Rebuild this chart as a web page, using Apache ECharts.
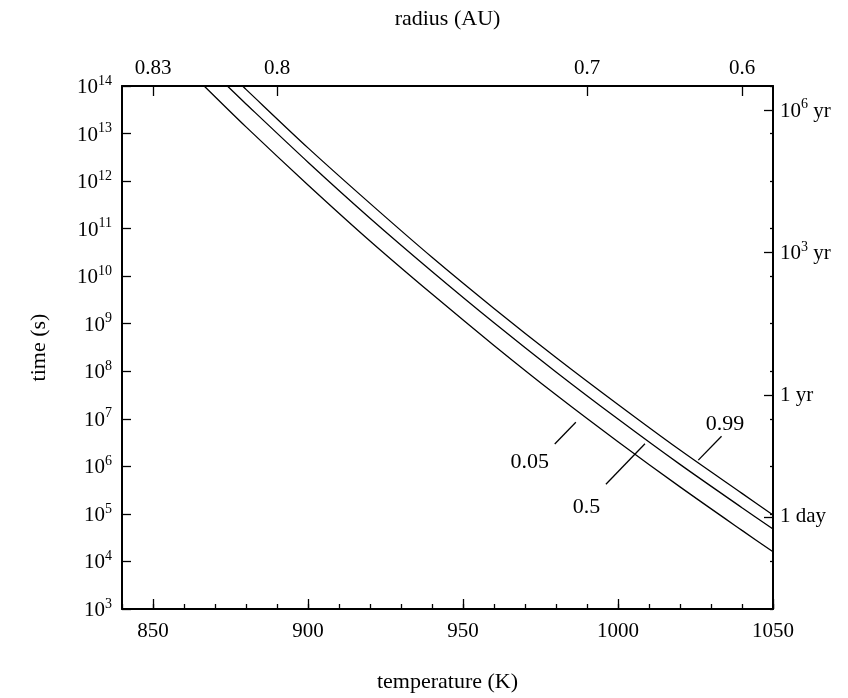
<!DOCTYPE html>
<html><head><meta charset="utf-8">
<script src="https://cdn.jsdelivr.net/npm/echarts@6/dist/echarts.min.js"></script>
<style>html,body{margin:0;padding:0;background:#fff}#c{width:848px;height:698px}</style>
</head><body><div id="c"></div>
<script>
// ---- data ----
const temp005 = [866.5, 880, 900, 920, 940, 960, 980, 1000, 1020, 1040, 1050];
const time005 = [1e14, 1.38e13, 8.3e11, 5.5e10, 4.2e9, 3.5e8, 3.2e7, 3.3e6, 3.7e5, 4.5e4, 1.6e4];
const temp05 = [874, 880, 900, 920, 940, 960, 980, 1000, 1020, 1040, 1050];
const time05 = [1e14, 4.2e13, 2.5e12, 1.66e11, 1.26e10, 1.05e9, 9.7e7, 9.9e6, 1.1e6, 1.35e5, 4.8e4];
const temp099 = [878.9, 880, 900, 920, 940, 960, 980, 1000, 1020, 1040, 1050];
const time099 = [1e14, 8.5e13, 5.0e12, 3.4e11, 2.5e10, 2.1e9, 1.95e8, 2.0e7, 2.2e6, 2.7e5, 9.5e4];

const curveNames = ['0.05', '0.5', '0.99'];
const labelTemp = [971.5, 989.8, 1034.5];
const labelTime = [1.25e6, 1.4e5, 7.8e6];
const leaderStartTemp = [979.6, 996.1, 1025.9];
const leaderStartTime = [2.95e6, 4.2e5, 1.35e6];
const leaderEndTemp = [986.4, 1008.7, 1033.4];
const leaderEndTime = [8.5e6, 3.0e6, 4.3e6];

const tempTicks = [850, 900, 950, 1000, 1050];
const radiusTemps = [850, 890, 990, 1040];
const radiusLabels = ['0.83', '0.8', '0.7', '0.6'];
const rightTickSeconds = [3.15576e13, 3.15576e10, 3.15576e7, 86400];
const rightTickLabels = ['10{sup|6} yr', '10{sup|3} yr', '1 yr', '1 day'];

// ---- chart ----
const FONT = 'Liberation Serif';
const FS = 21;
const black = '#000';
const rich = {
  b: {fontFamily: FONT, fontSize: FS, color: black, verticalAlign: 'bottom'},
  sup: {fontFamily: FONT, fontSize: 14, color: black, verticalAlign: 'bottom', padding: [0, 0, 10, 0]}
};
const base = {fontFamily: FONT, fontSize: FS, color: black};
const axisLine = {show: true, lineStyle: {color: black, width: 2}};
const rightLogVals = rightTickSeconds.map(v => Math.log10(v));

function pair(xs, ys) { return xs.map((x, i) => [x, ys[i]]); }
function curve(name, xs, ys) {
  return {type: 'line', name, data: pair(xs, ys), xAxisIndex: 0, yAxisIndex: 0,
    showSymbol: false, smooth: 0.3, lineStyle: {color: black, width: 1.3}, silent: true, z: 3};
}

const chart = echarts.init(document.getElementById('c'), null, {renderer: 'canvas'});
chart.setOption({
  animation: false,
  backgroundColor: '#fff',
  grid: {left: 122, right: 75, top: 86, bottom: 86, containLabel: false},
  xAxis: [
    {type: 'value', position: 'bottom', min: 840, max: 1050, interval: 10,
      axisLine, axisTick: {inside: true, length: 5, lineStyle: {color: black, width: 1.3}},
      axisLabel: {show: false}, splitLine: {show: false}},
    {type: 'value', position: 'bottom', min: 840, max: 1050,
      axisLine: {show: false},
      axisTick: {show: true, inside: true, length: 10, customValues: tempTicks, lineStyle: {color: black, width: 1.3}},
      axisLabel: Object.assign({customValues: tempTicks, margin: 12, formatter: v => String(v)}, base),
      splitLine: {show: false},
      name: 'temperature (K)', nameLocation: 'middle', nameGap: 62,
      nameTextStyle: {fontFamily: FONT, fontSize: 22, color: black}},
    {type: 'value', position: 'top', min: 840, max: 1050,
      axisLine,
      axisTick: {show: true, inside: true, length: 10, customValues: radiusTemps, lineStyle: {color: black, width: 1.3}},
      axisLabel: Object.assign({customValues: radiusTemps, margin: 7,
        formatter: v => radiusLabels[radiusTemps.indexOf(Math.round(v))] || ''}, base),
      splitLine: {show: false},
      name: 'radius (AU)', nameLocation: 'middle', nameGap: 56,
      nameTextStyle: {fontFamily: FONT, fontSize: 22, color: black}}
  ],
  yAxis: [
    {type: 'log', logBase: 10, min: 1e3, max: 1e14, interval: 1, position: 'left',
      axisLine, axisTick: {inside: true, length: 9, lineStyle: {color: black, width: 1.3}},
      axisLabel: {margin: 10, rich, formatter: v => '{b|10}{sup|' + Math.round(Math.log10(v)) + '}'},
      splitLine: {show: false}, minorTick: {show: false},
      name: 'time (s)', nameLocation: 'middle', nameGap: 72, nameRotate: 90,
      nameTextStyle: {fontFamily: FONT, fontSize: 22, color: black}},
    {type: 'value', position: 'right', min: 3, max: 14, interval: 1,
      axisLine, axisTick: {inside: true, length: 3, lineStyle: {color: black, width: 1.3}},
      axisLabel: {show: false}, splitLine: {show: false}},
    {type: 'value', position: 'right', min: 3, max: 14,
      axisLine: {show: false},
      axisTick: {show: true, inside: true, length: 9, customValues: rightLogVals, lineStyle: {color: black, width: 1.3}},
      axisLabel: {customValues: rightLogVals, margin: 7, rich,
        formatter: v => {
          let best = 0;
          rightLogVals.forEach((r, i) => { if (Math.abs(r - v) < Math.abs(rightLogVals[best] - v)) best = i; });
          return '{b|' + rightTickLabels[best].replace('{sup|', '}{sup|').replace('} yr', '}{b| yr') + '}';
        }},
      splitLine: {show: false}}
  ],
  series: [
    curve('0.05', temp005, time005),
    curve('0.5', temp05, time05),
    curve('0.99', temp099, time099),
    {type: 'scatter', xAxisIndex: 0, yAxisIndex: 0, symbolSize: 0, silent: true,
      itemStyle: {opacity: 1},
      data: curveNames.map((n, i) => ({name: n, value: [labelTemp[i], labelTime[i]]})),
      label: {show: true, position: 'inside', opacity: 1, formatter: p => p.name, fontFamily: FONT, fontSize: 22, color: black},
      markLine: {silent: true, symbol: ['none', 'none'], label: {show: false},
        lineStyle: {color: black, width: 1.3, type: 'solid', opacity: 1},
        data: curveNames.map((n, i) => [
          {coord: [leaderStartTemp[i], leaderStartTime[i]]},
          {coord: [leaderEndTemp[i], leaderEndTime[i]]}
        ])}}
  ]
});
</script></body></html>
